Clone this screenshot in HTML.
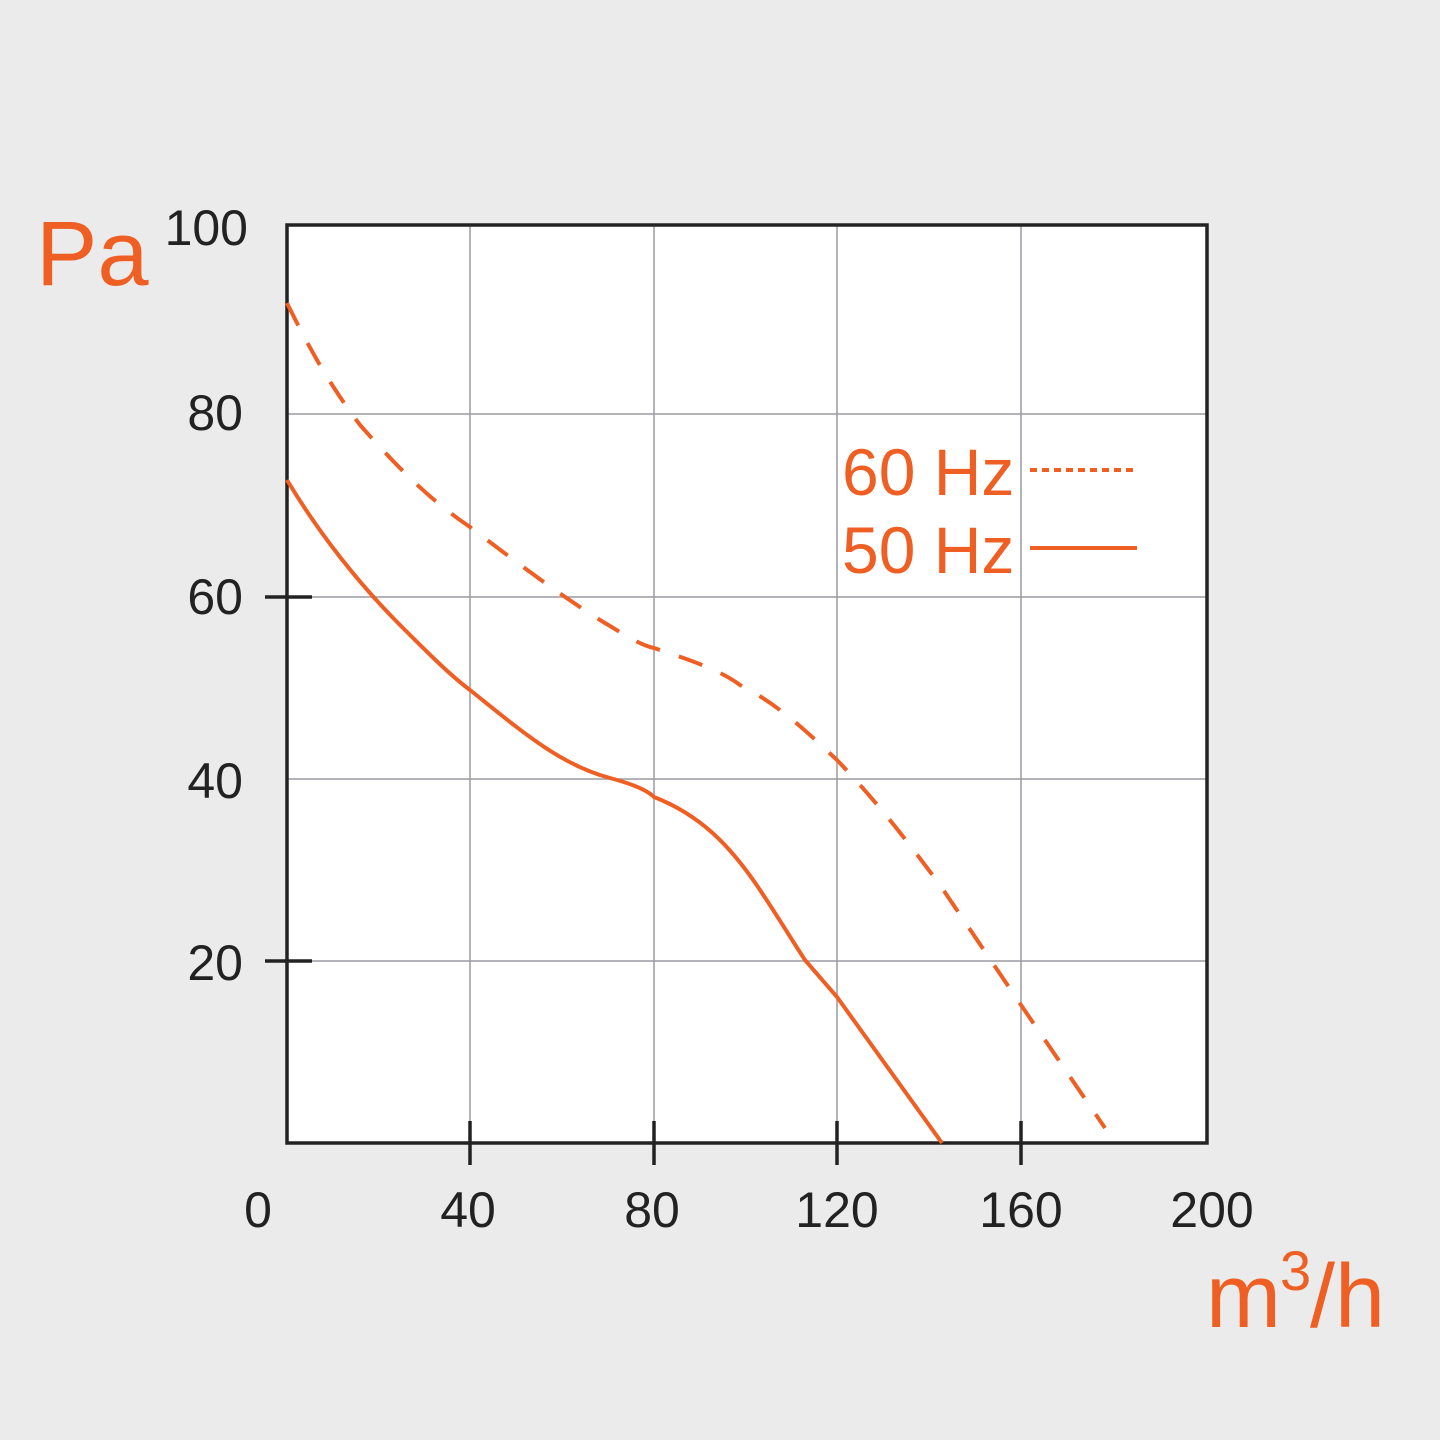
<!DOCTYPE html>
<html><head><meta charset="utf-8"><style>
html,body{margin:0;padding:0;background:#ebebeb;}
svg{display:block}
text{font-family:"Liberation Sans",Arial,sans-serif}
</style></head><body>
<svg width="1440" height="1440" viewBox="0 0 1440 1440" xmlns="http://www.w3.org/2000/svg">
<rect width="1440" height="1440" fill="#ebebeb"/>
<rect x="287" y="225" width="920" height="918" fill="#fff"/>
<g stroke="#9a9aa2" stroke-width="1.5">
<line x1="470" y1="225" x2="470" y2="1143"/>
<line x1="654" y1="225" x2="654" y2="1143"/>
<line x1="837" y1="225" x2="837" y2="1143"/>
<line x1="1021" y1="225" x2="1021" y2="1143"/>
<line x1="287" y1="414" x2="1207" y2="414"/>
<line x1="287" y1="597" x2="1207" y2="597"/>
<line x1="287" y1="779" x2="1207" y2="779"/>
<line x1="287" y1="961" x2="1207" y2="961"/>
</g>
<g stroke="#222" stroke-width="3.5">
<rect x="287" y="225" width="920" height="918" fill="none"/>
<line x1="265" y1="597" x2="312" y2="597"/>
<line x1="265" y1="961" x2="312" y2="961"/>
<line x1="470" y1="1121" x2="470" y2="1165"/>
<line x1="654" y1="1121" x2="654" y2="1165"/>
<line x1="837" y1="1121" x2="837" y2="1165"/>
<line x1="1021" y1="1121" x2="1021" y2="1165"/>
</g>
<g fill="none" stroke="#ef5f24" stroke-width="4" stroke-linecap="butt">
<path d="M287,480 C320,535 360,585 400,625 C430,655 450,675 470,690 C520,730 560,765 610,778 C640,786 650,793 654,797 C700,815 730,845 760,890 C780,920 795,945 805,960 L837,997 L942,1143"/>
<path stroke-dasharray="25 20" d="M287,303 C310,350 330,385 360,425 C400,470 430,500 470,527 C520,565 560,595 600,620 C625,635 640,645 654,648 C690,660 720,670 740,685 C780,705 810,735 837,760 C880,805 910,845 940,885 L1021,1005 L1105,1128"/>
<line x1="1030" y1="470" x2="1137" y2="470" stroke-dasharray="7 5"/>
<line x1="1030" y1="548" x2="1137" y2="548"/>
</g>
<g fill="#ef5f24">
<text x="842" y="495" font-size="66">60 Hz</text>
<text x="842" y="573" font-size="66">50 Hz</text>
<text x="36" y="285" font-size="92">Pa</text>
<text x="1206" y="1327" font-size="90">m</text>
<text x="1280" y="1290" font-size="56">3</text>
<text x="1310" y="1327" font-size="90">/h</text>
</g>
<g fill="#222" font-size="50">
<text x="248" y="245" text-anchor="end">100</text>
<text x="243" y="430" text-anchor="end">80</text>
<text x="243" y="614" text-anchor="end">60</text>
<text x="243" y="798" text-anchor="end">40</text>
<text x="243" y="980" text-anchor="end">20</text>
<text x="258" y="1227" text-anchor="middle">0</text>
<text x="468" y="1227" text-anchor="middle">40</text>
<text x="652" y="1227" text-anchor="middle">80</text>
<text x="837" y="1227" text-anchor="middle">120</text>
<text x="1021" y="1227" text-anchor="middle">160</text>
<text x="1212" y="1227" text-anchor="middle">200</text>
</g>
</svg>
</body></html>
